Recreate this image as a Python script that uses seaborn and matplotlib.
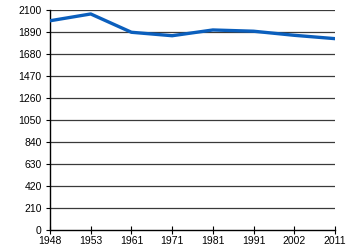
import matplotlib
matplotlib.use("Agg")
import matplotlib.pyplot as plt
import seaborn as sns
import pandas as pd

years = ["1948", "1953", "1961", "1971", "1981", "1991", "2002", "2011"]
population = [2000, 2065, 1890, 1857, 1912, 1900, 1861, 1829]
yticks = [0, 210, 420, 630, 840, 1050, 1260, 1470, 1680, 1890, 2100]

sns.set_style("white")
plt.rcParams['font.family'] = ['Liberation Sans', 'DejaVu Sans']

df = pd.DataFrame({"year": years, "pop": population})
df["pos"] = range(len(years))

fig = plt.figure(figsize=(3.5, 2.5), dpi=100)
ax = fig.add_axes([50/350, 20/250, 285/350, 219.7/250])

for t in yticks[1:]:
    ax.axhline(t, color="#3a3a3a", lw=0.9, zorder=1)

sns.lineplot(data=df, x="pos", y="pop", ax=ax, color="#0b5fbd", lw=2.4, zorder=3)

ax.set_xlim(0, len(years) - 1)
ax.set_ylim(0, 2100)
ax.set_xticks(range(len(years)))
ax.set_xticklabels(years)
ax.set_yticks(yticks)
ax.set_yticklabels([str(t) for t in yticks])
ax.set_xlabel("")
ax.set_ylabel("")

for s in ["top", "right"]:
    ax.spines[s].set_visible(False)
for s in ["left", "bottom"]:
    ax.spines[s].set_color("black")
    ax.spines[s].set_linewidth(1.0)

ax.tick_params(axis="x", direction="inout", length=6, width=0.8, pad=1, labelsize=7.5, colors="black", bottom=True)
ax.tick_params(axis="y", direction="out", length=3, width=0.8, pad=3, labelsize=7.5, colors="black", left=True)

fig.savefig("out.png", dpi=100)
